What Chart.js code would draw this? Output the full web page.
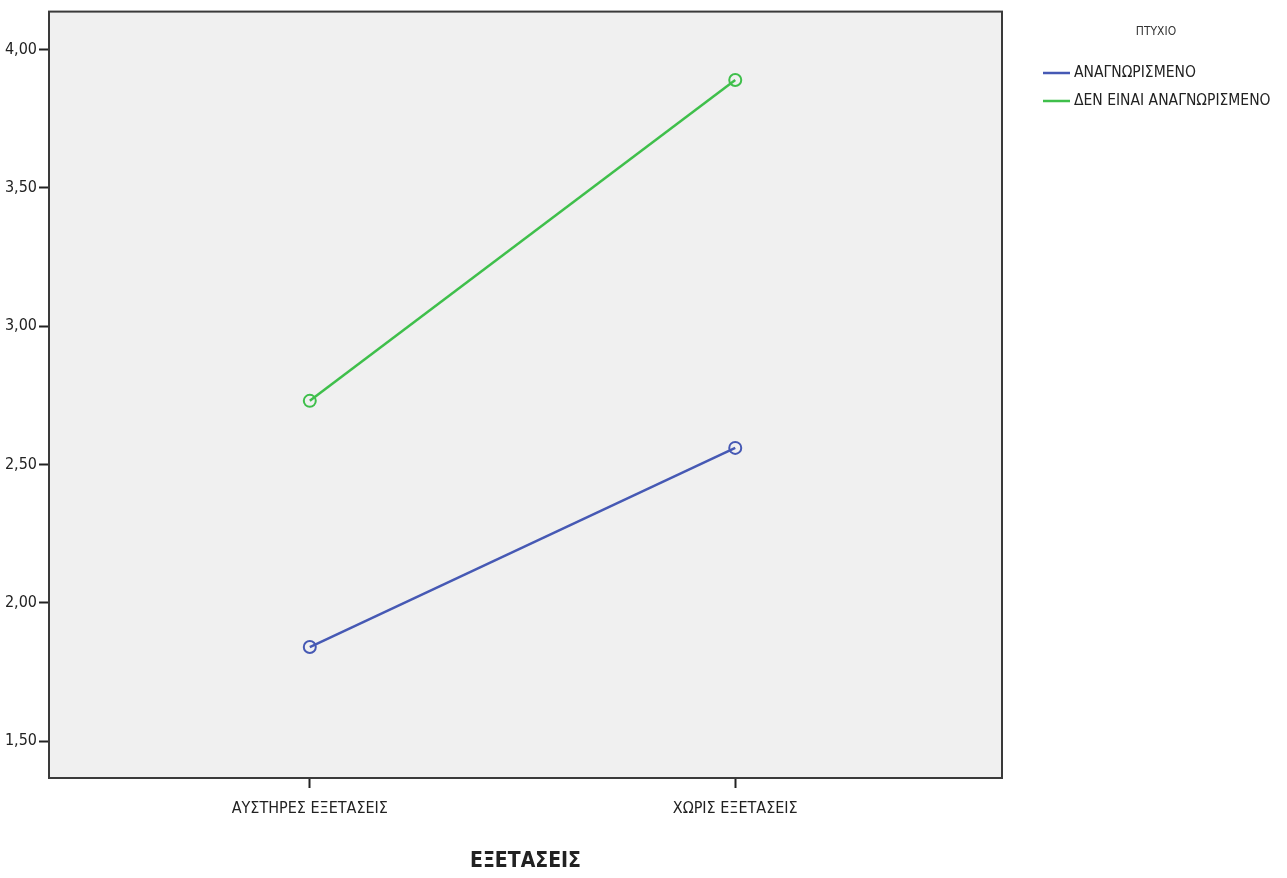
<!DOCTYPE html>
<html>
<head>
<meta charset="utf-8">
<script src="https://cdn.jsdelivr.net/npm/chart.js@4.4.1/dist/chart.umd.min.js"></script>
<style>
html,body{margin:0;padding:0;background:#fff;}
#wrap{width:1287px;height:878px;position:relative;}
</style>
</head>
<body>
<div id="wrap"><canvas id="c" width="1287" height="878"></canvas></div>
<script>
const categories = ['ΑΥΣΤΗΡΕΣ ΕΞΕΤΑΣΕΙΣ', 'ΧΩΡΙΣ ΕΞΕΤΑΣΕΙΣ'];
const seriesNames = ['ΑΝΑΓΝΩΡΙΣΜΕΝΟ', 'ΔΕΝ ΕΙΝΑΙ ΑΝΑΓΝΩΡΙΣΜΕΝΟ'];
const recognisedValues = [1.84, 2.56];
const notRecognisedValues = [2.73, 3.89];
const yTickValues = [1.5, 2.0, 2.5, 3.0, 3.5, 4.0];
const legendTitle = 'ΠΤΥΧΙΟ';
const xAxisTitle = 'ΕΞΕΤΑΣΕΙΣ';

const FONT = "'Liberation Sans Narrow','Arial Narrow','DejaVu Sans Condensed',sans-serif";
const colors = ['#4659b4', '#3fbf4b'];

function toPoints(vals){ return vals.map((v,i)=>({x:i, y:v})); }

const bgPlugin = {
  id:'bg',
  beforeDraw(chart){
    const {ctx, chartArea:a} = chart;
    ctx.save();
    ctx.fillStyle = '#f0f0f0';
    ctx.fillRect(a.left, a.top, a.right-a.left, a.bottom-a.top);
    ctx.restore();
  },
  afterDraw(chart){
    const {ctx, chartArea:a} = chart;
    ctx.save();
    ctx.strokeStyle = '#3a3a3a';
    ctx.lineWidth = 2;
    ctx.strokeRect(a.left, a.top, a.right-a.left, a.bottom-a.top);
    // legend
    ctx.fillStyle = '#333';
    ctx.font = "12px " + FONT;
    ctx.textAlign = 'center';
    ctx.textBaseline = 'middle';
    ctx.fillText(legendTitle, 1156, 32);
    ctx.font = "15.5px " + FONT;
    ctx.textAlign = 'left';
    chart.data.datasets.forEach((ds, i) => {
      const y = 73 + i*28;
      ctx.strokeStyle = ds.borderColor;
      ctx.lineWidth = 2.5;
      ctx.beginPath();
      ctx.moveTo(1043, y);
      ctx.lineTo(1070, y);
      ctx.stroke();
      ctx.fillStyle = '#222';
      ctx.fillText(ds.label, 1074, y);
    });
    ctx.restore();
  }
};

new Chart(document.getElementById('c'), {
  type:'line',
  data:{
    datasets:[
      {label:seriesNames[0], data:toPoints(recognisedValues), borderColor:colors[0], backgroundColor:'rgba(0,0,0,0)',
       borderWidth:2.5, pointRadius:6, pointBorderWidth:2, pointBackgroundColor:'rgba(0,0,0,0)', pointBorderColor:colors[0]},
      {label:seriesNames[1], data:toPoints(notRecognisedValues), borderColor:colors[1], backgroundColor:'rgba(0,0,0,0)',
       borderWidth:2.5, pointRadius:6, pointBorderWidth:2, pointBackgroundColor:'rgba(0,0,0,0)', pointBorderColor:colors[1]}
    ]
  },
  options:{
    responsive:false,
    animation:false,
    devicePixelRatio:1,
    layout:{padding:{top:10, right:285, bottom:0, left:0}},
    plugins:{legend:{display:false}, tooltip:{enabled:false}},
    scales:{
      x:{
        type:'linear',
        min:-0.613, max:1.627,
        afterBuildTicks(s){ s.ticks = categories.map((c,i)=>({value:i})); },
        afterFit(s){ s.height = 100; },
        ticks:{callback:(v)=>categories[v], color:'#222', font:{family:FONT, size:16}, padding:11, maxRotation:0, autoSkip:false},
        grid:{drawOnChartArea:false, drawTicks:true, tickLength:10, color:'#222', tickWidth:2},
        border:{display:true, color:'#3a3a3a', width:2},
        title:{display:true, text:xAxisTitle, color:'#222', font:{family:FONT, size:21, weight:'bold'}, padding:{top:4, bottom:4}}
      },
      y:{
        type:'linear',
        min:1.3667, max:4.137,
        afterBuildTicks(s){ s.ticks = yTickValues.map(v=>({value:v})); },
        afterFit(s){ s.width = 49; },
        ticks:{callback:(v)=>v.toFixed(2).replace('.', ','), color:'#222', font:{family:FONT, size:16}, padding:2},
        grid:{drawOnChartArea:false, drawTicks:true, tickLength:10, color:'#222', tickWidth:2},
        border:{display:true, color:'#3a3a3a', width:2}
      }
    }
  },
  plugins:[bgPlugin]
});
</script>
</body>
</html>
